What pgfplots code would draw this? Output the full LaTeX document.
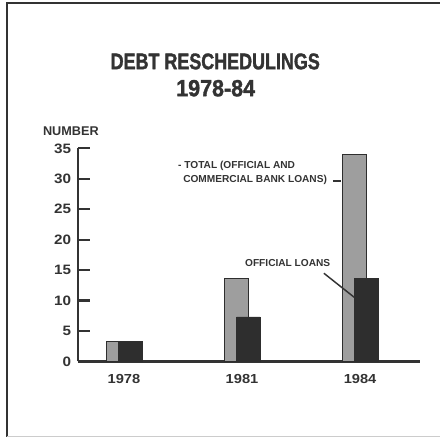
\documentclass[border=0pt]{standalone}
\usepackage{fontspec}
\setmainfont{Liberation Sans}
\newfontfamily\condfont[FakeStretch=0.79, FakeBold=1.5]{Liberation Sans Bold}
\newfontfamily\yearfont[FakeStretch=0.92, FakeBold=1.5]{Liberation Sans Bold}
\newfontfamily\widefont[FakeStretch=1.12]{Liberation Sans Bold}
\usepackage{pgfplots}
\pgfplotsset{compat=1.18}

\definecolor{totalgray}{HTML}{9E9E9E}
\definecolor{offblack}{HTML}{2E2E2E}
\definecolor{inkline}{HTML}{333333}

\begin{document}
\begin{tikzpicture}
\begin{axis}[
    scale only axis,
    width=256.5pt, height=159.5pt,
    xmin=1976.83, xmax=1985.53,
    ymin=0, ymax=35,
    axis x line=bottom, axis y line=left,
    axis line style={-, line width=2pt, inkline},
    xtick={1978,1981,1984},
    xtick style={draw=none},
    ytick={0,5,...,35},
    ytick style={line width=1.6pt, inkline},
    tick align=inside,
    major tick length=9pt,
    /pgf/number format/1000 sep={},
    /pgf/number format/assume math mode=true,
    yticklabel style={font=\widefont\fontsize{10.2}{11}\selectfont, text=inkline, xshift=-1.5pt},
    xticklabel style={font=\widefont\fontsize{9.8}{10}\selectfont, text=inkline, yshift=3pt},
    ybar, bar width=0.6,
    clip=false,
]
% total (official and commercial bank loans)
\addplot[fill=totalgray, draw=offblack, line width=0.6pt, bar shift=-0.15]
    coordinates {(1978,3.3) (1981,13.7) (1984,34)};
% official loans
\addplot[fill=offblack, draw=offblack, line width=0.6pt, bar shift=0.16]
    coordinates {(1978,3.3) (1981,7.3) (1984,13.7)};

\node[font=\condfont\fontsize{17}{18}\selectfont, text=inkline]
    at (axis cs:1980.32,49.3) {DEBT RESCHEDULINGS};
\node[font=\yearfont\fontsize{17.5}{18}\selectfont, text=inkline]
    at (axis cs:1980.33,44.9) {1978-84};
\node[font=\fontsize{9.5}{10}\selectfont\bfseries, text=inkline]
    at (axis cs:1976.65,37.85) {NUMBER};

\node[anchor=west, inner sep=0pt, font=\fontsize{7.6}{8}\selectfont\bfseries, text=inkline]
    at (axis cs:1979.37,32.1) {- TOTAL (OFFICIAL AND};
\node[anchor=west, inner sep=0pt, font=\fontsize{7.6}{8}\selectfont\bfseries, text=inkline]
    at (axis cs:1979.50,29.9) {COMMERCIAL BANK LOANS)};
\draw[inkline, line width=1.3pt] (axis cs:1983.31,29.6) -- (axis cs:1983.52,29.6);

\node[font=\fontsize{7.6}{8}\selectfont\bfseries, text=inkline]
    at (axis cs:1982.16,16.24) {OFFICIAL LOANS};
\draw[inkline, line width=1.1pt] (axis cs:1983.08,14.48) -- (axis cs:1983.85,10.53);

\coordinate (bbA) at (axis cs:1974.85,-12.84);
\coordinate (bbB) at (axis cs:1986.03,59.4);
\coordinate (frTL) at (axis cs:1975.02,58.9);
\coordinate (frBL) at (axis cs:1975.02,-12.4);
\coordinate (frTR) at (axis cs:1986.03,58.9);
\coordinate (frBR) at (axis cs:1986.03,-12.4);
\end{axis}
\draw[inkline, line width=1.3pt] (frTR) -- (frTL) -- (frBL);
\draw[gray!40, line width=0.6pt] (frBL) -- (frBR);
\pgfresetboundingbox
\path[use as bounding box] (bbA) rectangle (bbB);
\end{tikzpicture}
\end{document}
